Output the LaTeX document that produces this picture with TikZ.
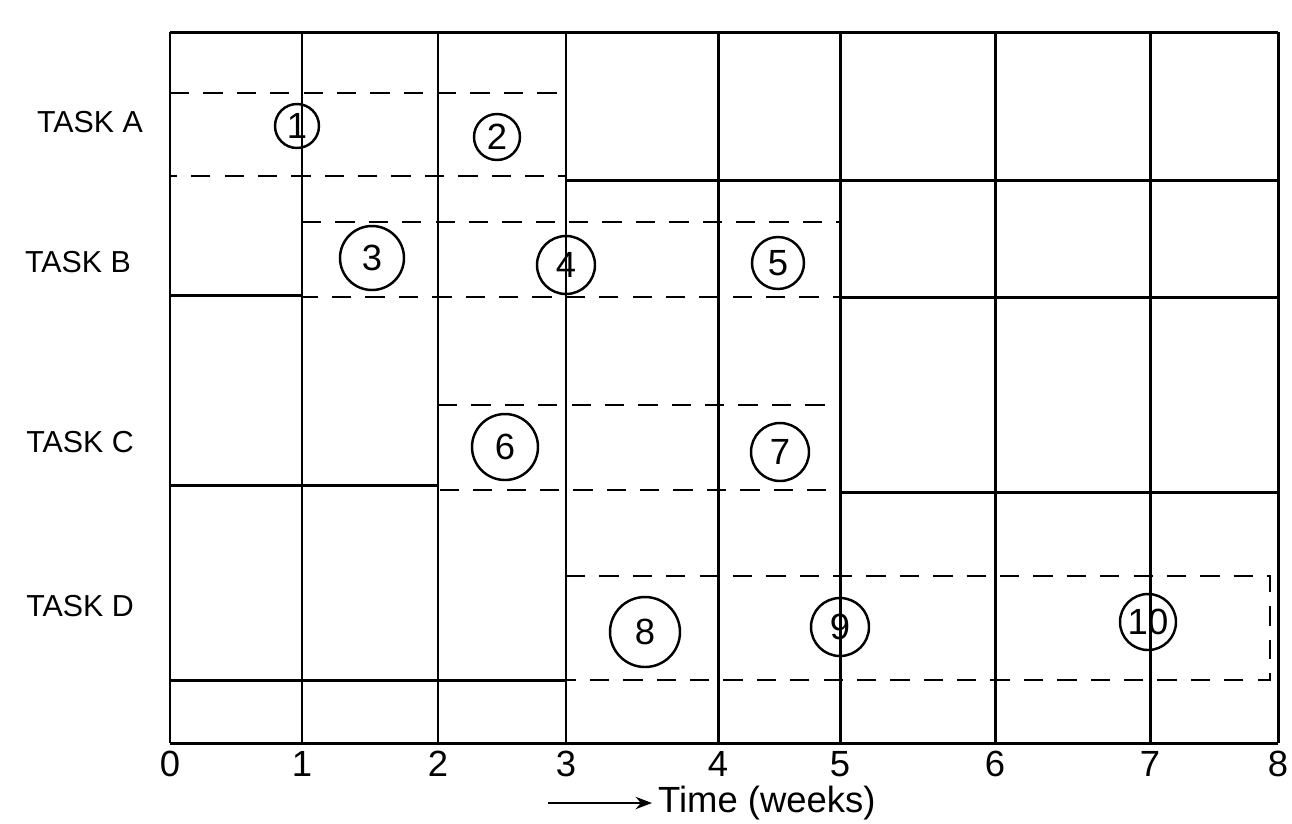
\documentclass[tikz,border=0pt]{standalone}
\usepackage{fontspec}
\setmainfont{Liberation Sans}
\usetikzlibrary{arrows.meta,positioning,calc}

\begin{document}
\begin{tikzpicture}[x=0.02cm, y=-0.02cm,
    grid/.style={line width=1.7pt, black},
    plan/.style={line width=1.6pt, black, dash pattern=on 11pt off 8pt},
    act/.style={circle, draw, line width=1.4pt, inner sep=0pt,
      minimum size={#1*0.02cm}, font=\huge},
    act/.default=56,
    task/.style={font=\LARGE},
    wk/.style={font=\huge},
    >=Stealth
  ]
  \useasboundingbox (0,0) rectangle (1292,823);

  %% ===== week lines and axis =====
  \foreach \w/\x in {0/170,1/302,2/438,3/566,4/718,5/840,6/995,7/1150,8/1278} {
    \coordinate (top\w) at (\x,32);
    \coordinate (bot\w) at (\x,743);
    \draw[grid] (top\w) -- (bot\w);
    \node[wk] (wk\w) at (\x,764) {\w};
  }
  \draw[grid] (top0) -- (top8);
  \draw[grid] (bot0) -- (bot8);

  %% ===== row lines =====
  \draw[grid] (top3 |- 0,180) -- (top8 |- 0,180);
  \draw[grid] (top0 |- 0,295) -- (top1 |- 0,295);
  \draw[grid] (top5 |- 0,297) -- (top8 |- 0,297);
  \draw[grid] (top0 |- 0,485) -- (top2 |- 0,485);
  \draw[grid] (top5 |- 0,492) -- (top8 |- 0,492);
  \draw[grid] (top0 |- 0,680) -- (top3 |- 0,680);

  %% ===== planned spans (dashed) =====
  \draw[plan] (top0 |- 0,93) -- (top3 |- 0,93) -- (top3 |- 0,176) -- (top0 |- 0,176);
  \draw[plan] (top1 |- 0,222) -- (top5 |- 0,222) -- (top5 |- 0,297) -- (top1 |- 0,297);
  \draw[plan] (top2 |- 0,405) -- (top5 |- 0,405) -- (top5 |- 0,490) -- (top2 |- 0,490);
  \draw[plan] (top3 |- 0,576) -- (1270,576) -- (1270,680) -- (top3 |- 0,680);

  %% ===== tasks =====
  \node[task] (ta) at (90,122) {TASK A};
  \node[task] (tb) at (78,262) {TASK B};
  \node[task] (tc) at (80,442) {TASK C};
  \node[task] (td) at (80,606) {TASK D};

  %% ===== activities =====
  \foreach \n/\x/\y/\d in {1/297/126/44, 2/497/137/46, 3/372/258/64,
      4/566/265/58, 5/778/263/52, 6/505/447/66, 7/780/452/58,
      8/645/632/70, 9/840/627/58, 10/1148/622/56} {
    \node[act=\d] (a\n) at (\x,\y) {\n};
  }

  %% ===== time label =====
  \node[font=\huge, anchor=west] (time) at (652,803) {Time (weeks)};
  \coordinate (tstart) at (548,803);
  \draw[->, line width=1.4pt] (tstart) -- (time.west);
\end{tikzpicture}
\end{document}
